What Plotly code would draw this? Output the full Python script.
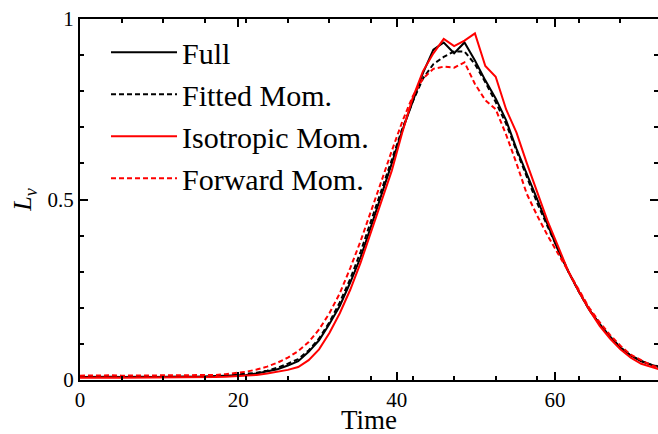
import plotly.graph_objects as go

# Sample times
time = [0.0, 1.31, 2.63, 3.94, 5.25, 6.56, 7.88, 9.19, 10.5, 11.81,
        13.13, 14.44, 15.75, 17.06, 18.38, 19.69, 21.0, 22.31, 23.63, 24.94,
        26.25, 27.56, 28.88, 30.19, 31.5, 32.81, 34.13, 35.44, 36.75, 38.06,
        39.38, 40.69, 42.0, 43.31, 44.63, 45.94, 47.25, 48.56, 49.88, 51.19,
        52.5, 53.81, 55.13, 56.44, 57.75, 59.06, 60.38, 61.69, 63.0, 64.31,
        65.63, 66.94, 68.25, 69.56, 70.88, 72.19, 73.5]

full = [0.008, 0.009, 0.008, 0.009, 0.008, 0.009, 0.009, 0.008, 0.009, 0.009,
        0.010, 0.009, 0.010, 0.010, 0.011, 0.012, 0.014, 0.018, 0.023, 0.030,
        0.040, 0.052, 0.078, 0.110, 0.155, 0.205, 0.270, 0.340, 0.425, 0.510,
        0.600, 0.690, 0.770, 0.850, 0.915, 0.935, 0.905, 0.935, 0.885, 0.830,
        0.780, 0.720, 0.640, 0.570, 0.500, 0.430, 0.360, 0.300, 0.245, 0.195,
        0.155, 0.120, 0.090, 0.068, 0.052, 0.042, 0.034]

fitted = [0.009, 0.009, 0.009, 0.009, 0.009, 0.009, 0.010, 0.009, 0.010, 0.010,
          0.010, 0.010, 0.011, 0.011, 0.012, 0.014, 0.016, 0.020, 0.026, 0.034,
          0.045, 0.058, 0.082, 0.115, 0.160, 0.215, 0.280, 0.355, 0.440, 0.525,
          0.610, 0.695, 0.770, 0.835, 0.875, 0.895, 0.910, 0.910, 0.875, 0.825,
          0.770, 0.710, 0.635, 0.560, 0.490, 0.425, 0.360, 0.300, 0.245, 0.195,
          0.155, 0.120, 0.090, 0.068, 0.053, 0.042, 0.035]

isotropic = [0.006, 0.007, 0.006, 0.007, 0.006, 0.006, 0.007, 0.006, 0.007, 0.006,
             0.007, 0.007, 0.008, 0.008, 0.009, 0.010, 0.011, 0.014, 0.018, 0.022,
             0.028, 0.036, 0.055, 0.085, 0.130, 0.185, 0.250, 0.325, 0.410, 0.490,
             0.580, 0.685, 0.780, 0.855, 0.905, 0.945, 0.925, 0.940, 0.960, 0.870,
             0.840, 0.750, 0.685, 0.600, 0.520, 0.440, 0.370, 0.300, 0.245, 0.195,
             0.150, 0.115, 0.085, 0.062, 0.045, 0.035, 0.027]

forward = [0.012, 0.013, 0.012, 0.013, 0.012, 0.012, 0.013, 0.012, 0.012, 0.013,
           0.013, 0.013, 0.014, 0.014, 0.016, 0.019, 0.023, 0.029, 0.037, 0.048,
           0.062, 0.080, 0.105, 0.140, 0.185, 0.240, 0.310, 0.385, 0.465, 0.550,
           0.635, 0.715, 0.785, 0.835, 0.862, 0.868, 0.865, 0.880, 0.820, 0.775,
           0.750, 0.680, 0.600, 0.515, 0.455, 0.400, 0.350, 0.300, 0.250, 0.200,
           0.160, 0.125, 0.095, 0.070, 0.055, 0.040, 0.032]

x_ticks = [0, 20, 40, 60]
y_ticks = [0, 0.5, 1]
y_tick_text = ["0", "0.5", "1"]

SERIF = "Liberation Serif"

series = [
    ("Full", full, "black", "solid"),
    ("Fitted Mom.", fitted, "black", "5px,3px"),
    ("Isotropic Mom.", isotropic, "red", "solid"),
    ("Forward Mom.", forward, "red", "5px,3px"),
]

fig = go.Figure()
for name, vals, color, dash in series:
    fig.add_trace(go.Scatter(
        x=time, y=vals, mode="lines", name=name,
        line=dict(color=color, width=2, dash=dash),
    ))

axis_common = dict(
    showline=True, linecolor="black", linewidth=2, mirror="allticks",
    ticks="inside", ticklen=8, tickwidth=2, tickcolor="black",
    showgrid=False, zeroline=False, automargin=False,
    tickfont=dict(family=SERIF, size=21, color="black"),
)

fig.update_xaxes(
    range=[0, 73], tickmode="array", tickvals=x_ticks,
    minor=dict(tick0=0, dtick=5.25, ticks="inside", ticklen=4, tickwidth=1.5,
               tickcolor="black", showgrid=False),
    **axis_common,
)
fig.update_yaxes(
    range=[0, 1], tickmode="array", tickvals=y_ticks, ticktext=y_tick_text,
    minor=dict(tick0=0, dtick=0.1, ticks="inside", ticklen=4, tickwidth=1.5,
               tickcolor="black", showgrid=False),
    title=dict(text="<i>L</i><sub><i>ν</i></sub>",
               font=dict(family=SERIF, size=26, color="black"), standoff=8),
    **axis_common,
)

# x-axis title placed below the tick labels
fig.add_annotation(
    text="Time", xref="paper", yref="paper", x=0.5, y=0,
    xanchor="center", yanchor="middle", yshift=-40, showarrow=False,
    font=dict(family=SERIF, size=27, color="black"),
)

fig.update_layout(
    width=658, height=434,
    margin=dict(l=80, r=0, t=19, b=54),
    paper_bgcolor="white", plot_bgcolor="white",
    legend=dict(
        x=0.045, y=0.98, xanchor="left", yanchor="top",
        bgcolor="rgba(0,0,0,0)", borderwidth=0,
        font=dict(family=SERIF, size=30, color="black"),
        itemwidth=66,
    ),
    showlegend=True,
)

fig.write_html("out.html")
